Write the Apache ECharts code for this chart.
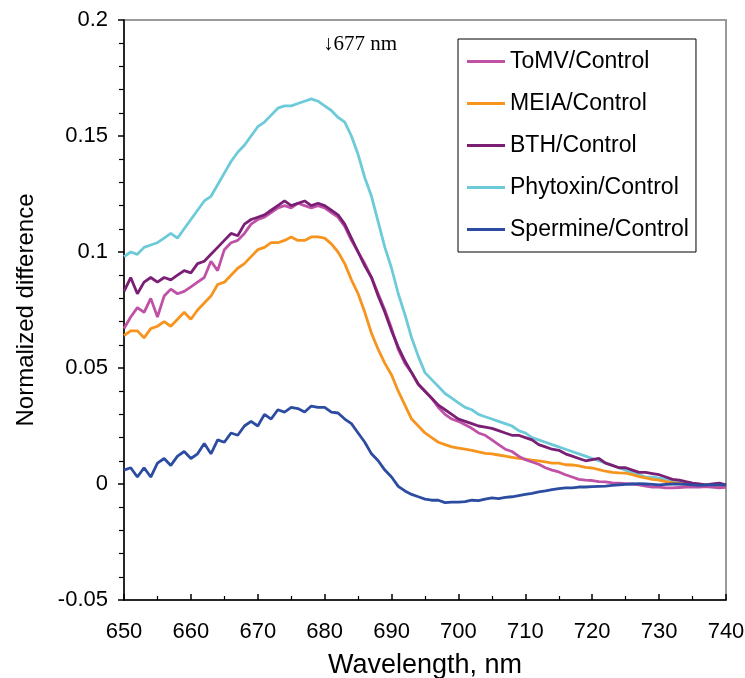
<!DOCTYPE html>
<html>
<head>
<meta charset="utf-8">
<script src="https://cdn.jsdelivr.net/npm/echarts@6/dist/echarts.min.js"></script>
<style>html,body{margin:0;padding:0;background:#fff}#c{width:745px;height:678px}</style>
</head>
<body>
<div id="c"></div>
<script>
// wavelength sampling 650..740 nm, 1 nm step
var wavelengths = [];
for (var w = 650; w <= 740; w++) wavelengths.push(w);

var seriesNames = ['ToMV/Control', 'MEIA/Control', 'BTH/Control', 'Phytoxin/Control', 'Spermine/Control'];

var tomv = [0.067,0.072,0.076,0.074,0.080,0.072,0.081,0.084,0.082,0.083,
  0.085,0.087,0.089,0.096,0.092,0.101,0.104,0.105,0.108,0.112,
  0.114,0.115,0.117,0.119,0.120,0.119,0.121,0.120,0.119,0.120,
  0.119,0.117,0.115,0.111,0.105,0.100,0.095,0.089,0.082,0.075,
  0.067,0.058,0.052,0.048,0.043,0.040,0.037,0.033,0.030,0.028,
  0.027,0.0255,0.024,0.022,0.021,0.019,0.017,0.015,0.014,0.012,
  0.0105,0.0095,0.0085,0.007,0.006,0.0052,0.004,0.003,0.002,0.0017,
  0.0015,0.001,0.0009,0.0005,0.0004,0.0002,0.0,-0.0004,-0.0009,-0.0013,
  -0.0013,-0.0017,-0.0017,-0.0015,-0.0013,-0.0013,-0.0013,-0.0011,-0.0013,-0.0017,
  -0.0013];

var meia = [0.064,0.066,0.066,0.063,0.067,0.068,0.070,0.068,0.071,0.074,
  0.071,0.075,0.078,0.081,0.086,0.087,0.090,0.093,0.095,0.098,
  0.101,0.102,0.104,0.104,0.105,0.1065,0.105,0.105,0.1065,0.1065,
  0.106,0.1035,0.100,0.095,0.088,0.082,0.074,0.065,0.058,0.052,
  0.047,0.040,0.034,0.028,0.025,0.022,0.020,0.018,0.017,0.016,
  0.0155,0.015,0.0145,0.0138,0.0132,0.013,0.0125,0.012,0.0115,0.011,
  0.0107,0.0103,0.010,0.0095,0.009,0.009,0.0083,0.0082,0.0078,0.0072,
  0.0069,0.0062,0.0055,0.005,0.0048,0.0047,0.004,0.0032,0.0026,0.002,
  0.0017,0.001,0.0006,0.0003,0.0,-0.0004,-0.0004,-0.0004,-0.0008,-0.0013,
  -0.0013];

var bth = [0.083,0.089,0.082,0.087,0.089,0.087,0.089,0.088,0.090,0.092,
  0.091,0.095,0.096,0.099,0.102,0.105,0.108,0.107,0.112,0.114,
  0.115,0.116,0.118,0.120,0.122,0.120,0.121,0.122,0.120,0.121,
  0.120,0.118,0.116,0.112,0.106,0.100,0.094,0.089,0.081,0.074,
  0.066,0.059,0.053,0.048,0.043,0.040,0.037,0.034,0.032,0.030,
  0.028,0.027,0.026,0.025,0.0245,0.024,0.023,0.022,0.021,0.021,
  0.020,0.019,0.017,0.016,0.015,0.0145,0.013,0.012,0.011,0.010,
  0.0105,0.011,0.009,0.008,0.007,0.007,0.006,0.005,0.005,0.0045,
  0.004,0.003,0.002,0.0017,0.001,0.0004,0.0,-0.0004,0.0,0.0004,
  -0.0004];

var phytoxin = [0.098,0.100,0.099,0.102,0.103,0.104,0.106,0.108,0.106,0.110,
  0.114,0.118,0.122,0.124,0.129,0.134,0.139,0.143,0.146,0.150,
  0.154,0.156,0.159,0.162,0.163,0.163,0.164,0.165,0.166,0.165,
  0.163,0.161,0.158,0.156,0.150,0.142,0.132,0.124,0.113,0.102,
  0.093,0.082,0.073,0.063,0.055,0.048,0.045,0.042,0.039,0.037,
  0.035,0.033,0.032,0.030,0.029,0.028,0.027,0.026,0.025,0.023,
  0.022,0.020,0.019,0.018,0.017,0.016,0.015,0.014,0.013,0.012,
  0.011,0.010,0.009,0.008,0.007,0.006,0.005,0.004,0.003,0.003,
  0.0025,0.002,0.001,0.001,0.0,-0.0004,-0.001,-0.001,-0.0013,-0.0013,
  -0.0013];

var spermine = [0.006,0.007,0.003,0.007,0.003,0.009,0.011,0.008,0.012,0.014,
  0.011,0.013,0.0175,0.013,0.019,0.018,0.022,0.021,0.025,0.027,
  0.025,0.030,0.028,0.032,0.031,0.033,0.0325,0.031,0.0336,0.033,
  0.033,0.031,0.0306,0.028,0.026,0.022,0.018,0.013,0.010,0.006,
  0.003,-0.001,-0.003,-0.0045,-0.0055,-0.0065,-0.007,-0.007,-0.008,-0.0078,
  -0.0078,-0.0076,-0.007,-0.0072,-0.0065,-0.006,-0.0063,-0.0058,-0.0055,-0.005,
  -0.0045,-0.004,-0.0034,-0.003,-0.0024,-0.002,-0.0017,-0.0017,-0.0013,-0.0013,
  -0.0011,-0.001,-0.0009,-0.0006,-0.0004,-0.0002,0.0,0.0002,0.0,-0.0002,
  -0.0004,-0.0002,0.0,0.0,-0.0002,-0.0004,-0.0006,-0.0004,-0.0004,-0.0004,
  -0.0004];

var colors = {
  'ToMV/Control': '#BF52A6',
  'MEIA/Control': '#F7941E',
  'BTH/Control': '#7A1F73',
  'Phytoxin/Control': '#6DCAD8',
  'Spermine/Control': '#2C4CA2'
};

var seriesData = {
  'ToMV/Control': tomv,
  'MEIA/Control': meia,
  'BTH/Control': bth,
  'Phytoxin/Control': phytoxin,
  'Spermine/Control': spermine
};

var drawOrder = ['Phytoxin/Control', 'MEIA/Control', 'ToMV/Control', 'BTH/Control', 'Spermine/Control'];

function pairs(arr) {
  return arr.map(function (v, i) { return [wavelengths[i], v]; });
}

var chart = echarts.init(document.getElementById('c'), null, { renderer: 'canvas' });
var FONT = "'Liberation Sans', Arial, sans-serif";

chart.setOption({
  animation: false,
  backgroundColor: '#fff',
  grid: {
    left: 124, right: 19, top: 20, bottom: 78,
    outerBoundsMode: 'none', containLabel: false,
    show: true, borderColor: '#9a9a9a', borderWidth: 2
  },
  xAxis: {
    type: 'value', min: 650, max: 740, interval: 10,
    name: 'Wavelength, nm', nameLocation: 'middle', nameGap: 52,
    nameTextStyle: { fontFamily: FONT, fontSize: 27, color: '#000' },
    axisLine: { show: true, onZero: false, lineStyle: { color: '#000', width: 1.5 } },
    axisTick: { show: true, inside: true, length: 6, lineStyle: { color: '#000', width: 1.5 } },
    minorTick: { show: true, splitNumber: 2, length: 4, lineStyle: { color: '#000', width: 1.2 } },
    axisLabel: { fontFamily: FONT, fontSize: 22, color: '#000', margin: 21 },
    splitLine: { show: false }
  },
  yAxis: {
    type: 'value', min: -0.05, max: 0.2, interval: 0.05,
    name: 'Normalized difference', nameLocation: 'middle', nameGap: 86, nameRotate: 90,
    nameTextStyle: { fontFamily: FONT, fontSize: 24, color: '#000' },
    axisLine: { show: true, onZero: false, lineStyle: { color: '#000', width: 1.5 } },
    axisTick: { show: true, inside: false, length: 6, lineStyle: { color: '#000', width: 1.5 } },
    minorTick: { show: true, splitNumber: 5, length: 5, lineStyle: { color: '#000', width: 1.2 } },
    axisLabel: {
      fontFamily: FONT, fontSize: 22, color: '#000', margin: 16,
      formatter: function (v) { return Math.abs(v) < 1e-9 ? '0' : String(+v.toFixed(2)); }
    },
    splitLine: { show: false }
  },
  legend: {
    orient: 'vertical', left: 458, top: 39,
    data: seriesNames,
    icon: 'rect', itemWidth: 38, itemHeight: 3, itemGap: 19,
    padding: [11, 7, 11, 9],
    borderColor: '#000', borderWidth: 1,
    textStyle: { fontFamily: FONT, fontSize: 23, color: '#000' }
  },
  graphic: [{
    type: 'text', left: 323, top: 34,
    style: { text: '\u2193677 nm', fontFamily: "'Liberation Serif', 'Times New Roman', serif", fontSize: 21, fill: '#000' }
  }],
  series: drawOrder.map(function (name) {
    return {
      name: name, type: 'line', data: pairs(seriesData[name]),
      showSymbol: false, symbol: 'none',
      lineStyle: { color: colors[name], width: 2.8 },
      itemStyle: { color: colors[name] }
    };
  })
});
</script>
</body>
</html>
